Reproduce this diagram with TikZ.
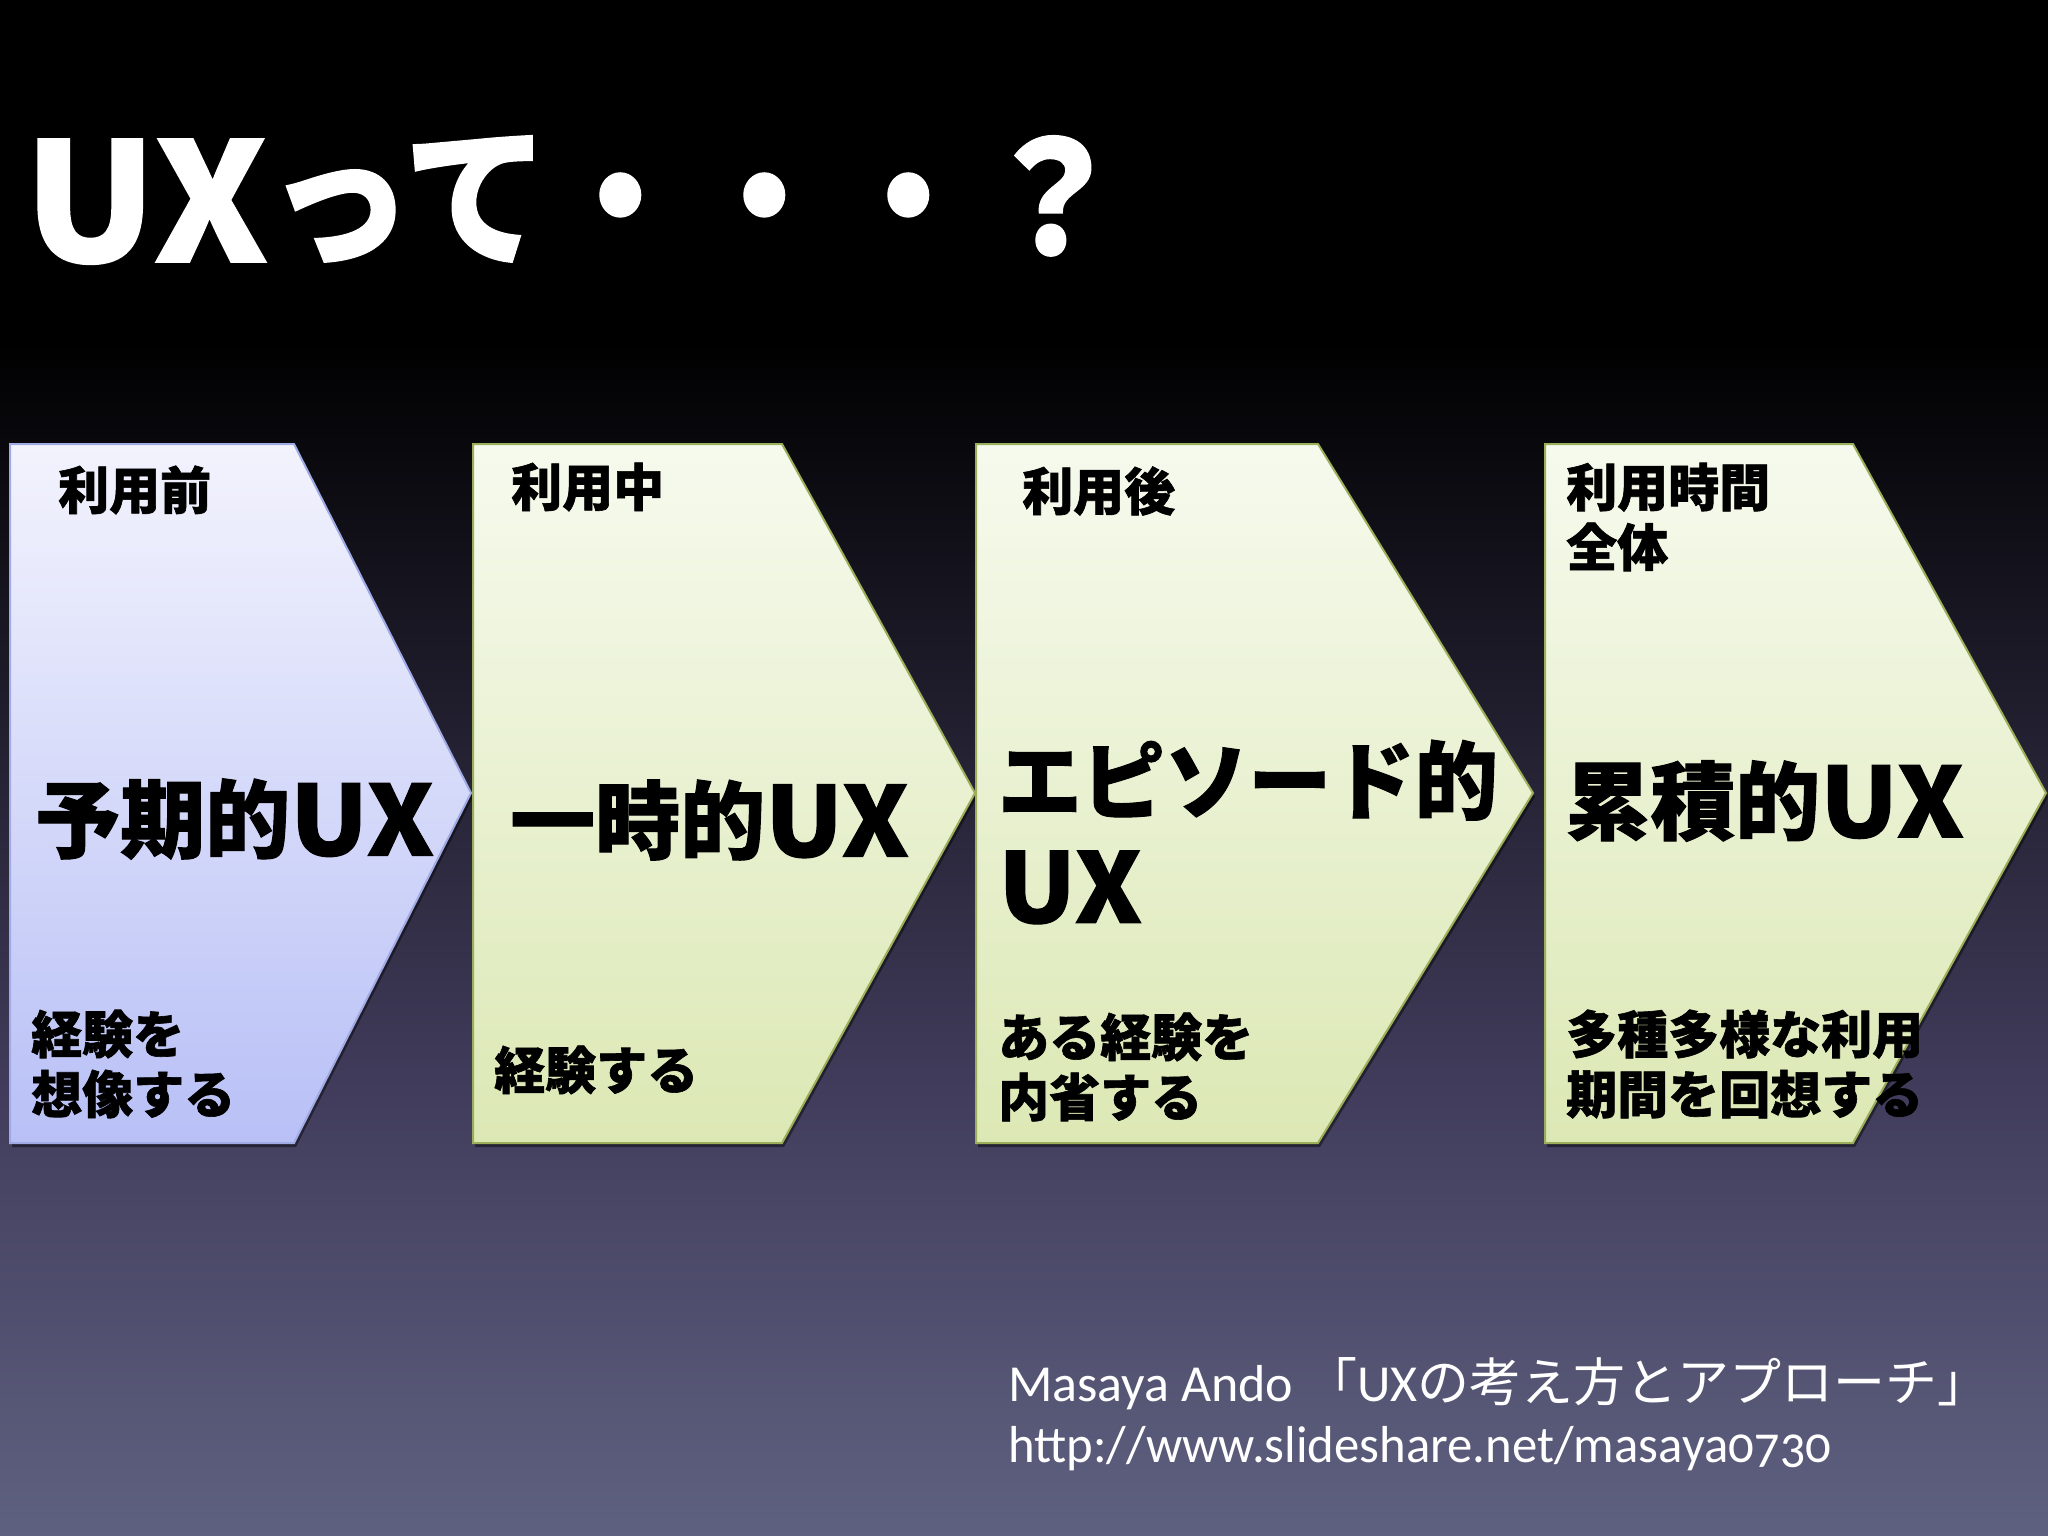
\documentclass[tikz,border=0pt]{standalone}
\usepackage{fontspec}
\newfontfamily\jp{Noto Sans CJK JP}[BoldFeatures={FakeBold=1.2}]
\newfontfamily\jpl{Noto Sans CJK JP}
\newfontfamily\lat{Carlito}[Numbers=OldStyle]
\usetikzlibrary{shadows}
\definecolor{bgmid}{RGB}{66,61,93}
\definecolor{bgbot}{RGB}{95,97,128}
\definecolor{atop}{RGB}{243,243,253}
\definecolor{abot}{RGB}{184,192,246}
\definecolor{aline}{RGB}{160,170,228}
\definecolor{gtop}{RGB}{246,250,238}
\definecolor{gbot}{RGB}{220,232,180}
\definecolor{gline}{RGB}{155,174,90}
\newcommand\wideUX[1][1.14]{\raisebox{-0.05em}{\scalebox{1.2}[#1]{UX}}}
\tikzset{
 shd/.style={drop shadow={shadow xshift=2pt,shadow yshift=-4pt,opacity=0.45,fill=black}},
 chevA/.style={shd,top color=atop,bottom color=abot,draw=aline,line width=2pt},
 chevG/.style={shd,top color=gtop,bottom color=gbot,draw=gline,line width=2pt},
 phase/.style={anchor=west,inner sep=0pt,font=\jp\bfseries\fontsize{51}{60}\selectfont,align=left},
 kind/.style={anchor=west,inner sep=0pt,font=\jp\bfseries\fontsize{85}{106}\selectfont,align=left},
 act/.style={anchor=west,inner sep=0pt,font=\jp\bfseries\fontsize{51}{60}\selectfont,align=left},
 ttl/.style={anchor=west,inner sep=0pt,text=white,font=\jp\bfseries\fontsize{144}{150}\selectfont},
 foot/.style={anchor=base west,inner sep=0pt,text=white,font=\lat\fontsize{52}{60}\selectfont},
}
\begin{document}
\begin{tikzpicture}[x=1pt,y=-1pt]
\useasboundingbox (0,0) rectangle (2048,1536);
\fill[black] (0,0) rectangle (2048,342);
\shade[top color=black,bottom color=bgmid] (0,340) rectangle (2048,1101);
\shade[top color=bgmid,bottom color=bgbot] (0,1100) rectangle (2048,1536);

% chevrons
\path[chevA] (10,444) -- (294,444) -- (471,793) -- (294,1143) -- (10,1143) -- cycle;
\path[chevG] (473,444) -- (782,444) -- (975,793) -- (782,1143) -- (473,1143) -- cycle;
\path[chevG] (976,444) -- (1318,444) -- (1533,793) -- (1318,1143) -- (976,1143) -- cycle;
\path[chevG] (1545,444) -- (1853,444) -- (2046,793) -- (1853,1143) -- (1545,1143) -- cycle;

% title
\node[ttl] (title) at (24,200) {\scalebox{1}[1.08]{\wideUX[1.06]って・・・？}};

% chevron 1
\node[phase] (p1) at (58,490) {利用前};
\node[kind] (k1) at (35,819) {予期的\wideUX};
\node[act] (a1) at (31,1064) {経験を\\想像する};
% chevron 2
\node[phase] (p2) at (511,487) {利用中};
\node[kind] (k2) at (510,820) {一時的\wideUX};
\node[act] (a2) at (494,1070) {経験する};
% chevron 3
\node[phase] (p3) at (1022,491) {利用後};
\node[kind] (k3) at (998,832) {\scalebox{0.98}[1]{エピソード的}\\\wideUX};
\node[act] (a3) at (998,1067) {ある経験を\\内省する};
% chevron 4
\node[phase] (p4) at (1566,517) {利用時間\\全体};
\node[kind] (k4) at (1565,801) {累積的\wideUX};
\node[act] (a4) at (1566,1064) {多種多様な利用\\期間を回想する};

% footer
\node[foot] (f1) at (1008,1401) {Masaya Ando {\jpl 「}UX{\jpl の考え方とアプローチ」}};
\node[foot] (f2) at (1008,1462) {\scalebox{0.976}[1]{http://www.slideshare.net/masaya0730}};
\end{tikzpicture}
\end{document}
